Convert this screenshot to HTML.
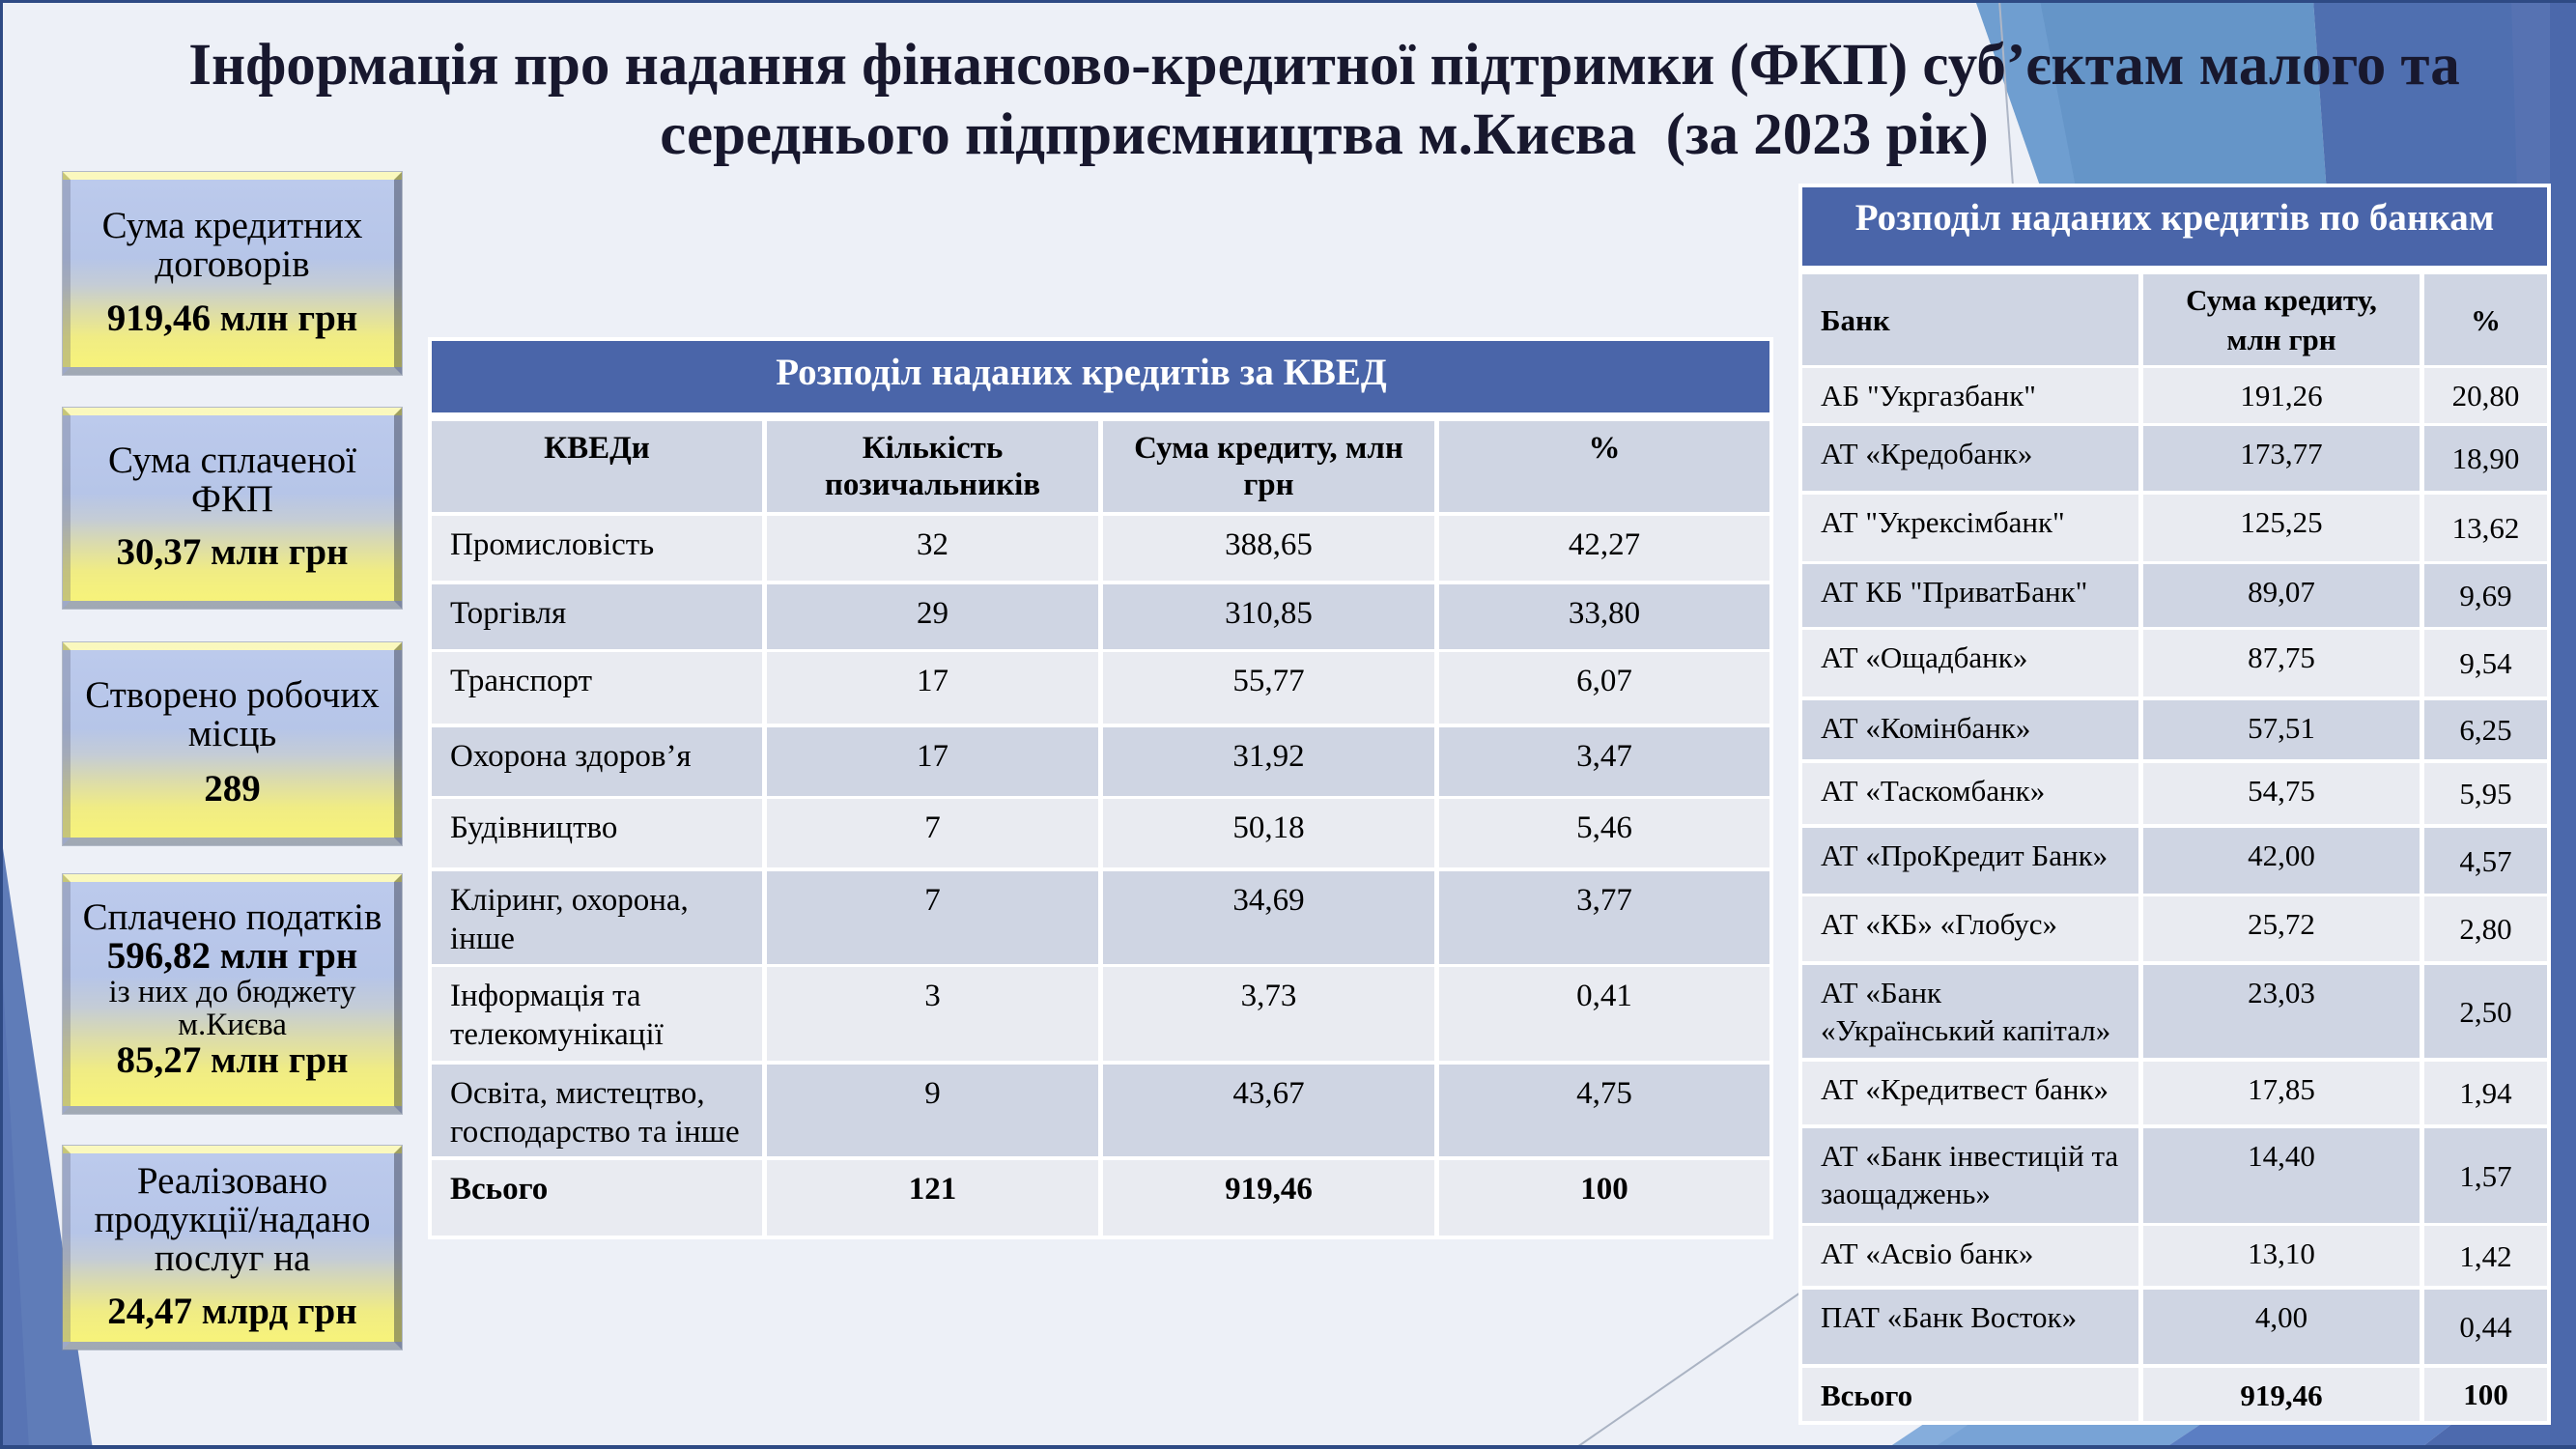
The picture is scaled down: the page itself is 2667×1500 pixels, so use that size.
<!DOCTYPE html>
<html lang="uk">
<head>
<meta charset="utf-8">
<style>
html,body{margin:0;padding:0}
body{width:2667px;height:1500px;overflow:hidden;position:relative;background:#edf0f7;font-family:"Liberation Serif","Noto Serif CJK SC",serif;color:#000}
.abs{position:absolute}
#title{position:absolute;left:100px;width:2542px;top:32px;text-align:center;font-weight:bold;font-size:61px;line-height:72px;color:#18182e;white-space:nowrap}
.bx{position:absolute;left:65px;width:351px;box-sizing:border-box;border-style:solid;border-width:8px;
 border-color:rgba(255,255,255,.5) rgba(40,45,60,.42) rgba(100,95,50,.3) rgba(90,95,115,.3);
 background:linear-gradient(180deg,#bccaec 0%,#b6c5e8 42%,#c4ccd6 56%,#dcdcaa 70%,#f0ec84 84%,#f7f37a 100%);
 box-shadow:0 0 0 1px rgba(130,140,160,.55);text-align:center;font-size:39px;line-height:40px}
.bx .in{position:absolute;left:0;right:0;white-space:nowrap}
.bx .bo{font-weight:bold}
.bx .sm{font-size:33px;line-height:34px}
.frame{position:absolute;background:#fff}
.hbar{position:absolute;background:#4a65a9;color:#fff;font-weight:bold;font-size:39px;text-align:center;white-space:nowrap}
.r{position:absolute}
.r>div{position:absolute;top:0;bottom:0;box-sizing:border-box;white-space:nowrap}
.dk>div{background:#cfd5e3}
.lt>div{background:#e9ebf1}
.K{left:447px;width:1385px;font-size:33px;line-height:40px}
.K>div{padding-top:10px}
.K>.a{left:0;width:342px;padding-left:19px}
.K>.b{left:347px;width:343px;text-align:center}
.K>.c{left:695px;width:343px;text-align:center}
.K>.d{left:1043px;width:342px;text-align:center}
.K.hd>div{padding-top:9px;line-height:38px;text-align:center;padding-left:0}
.B{left:1866px;width:771px;font-size:31px;line-height:39px}
.B>div{padding-top:9px}
.B>.a{left:0;width:348px;padding-left:19px}
.B>.b{left:353px;width:286px;text-align:center}
.B>.c{left:644px;width:127px;text-align:center;padding-top:0;display:flex;align-items:center;justify-content:center}
.B.bh>div{padding-top:0;display:flex;align-items:center}
.B.bh>.a{justify-content:flex-start}
.B.bh>.b{flex-direction:column;justify-content:center;line-height:41px}
.bold{font-weight:bold}
</style>
</head>
<body>
<svg class="abs" style="left:0;top:0" width="2667" height="1500" viewBox="0 0 2667 1500">
 <rect width="2667" height="1500" fill="#edf0f7"/>
 <polygon points="0,858 96,1500 0,1500" fill="#5f7cb8"/>
 <polygon points="0,960 30,1500 0,1500" fill="#5370b0" opacity=".6"/>
 <polygon points="2045,0 2395,0 2418,330 2160,330" fill="#6595c8"/>
 <polygon points="2045,0 2112,0 2175,330 2160,330" fill="#74a2d3" opacity=".7"/>
 <polygon points="2395,0 2667,0 2667,330 2418,330" fill="#4f6fb0"/>
 <polygon points="2600,0 2667,0 2667,330 2610,330" fill="#5672b2"/>
 <line x1="2070" y1="0" x2="2094" y2="330" stroke="#aeb6c6" stroke-width="2"/>
 <polygon points="1953,1500 2103,1400 2390,1400 2240,1500" fill="#78a3d6"/>
 <polygon points="1953,1500 2103,1400 2150,1400 2000,1500" fill="#88afdd" opacity=".8"/>
 <polygon points="2240,1500 2390,1400 2635,1400 2505,1500" fill="#5b7ec3"/>
 <polygon points="2505,1500 2635,1400 2667,1400 2667,1500" fill="#4d6aae"/>
 <line x1="1630" y1="1500" x2="1880" y2="1327" stroke="#aab3c3" stroke-width="2"/>
 <rect x="2640" y="0" width="27" height="1500" fill="#4b68ab"/>
 <rect x="0" y="0" width="2667" height="3" fill="#2e4a84"/>
 <rect x="0" y="0" width="3" height="1500" fill="#2e4a84"/>
 <rect x="0" y="1496" width="2667" height="4" fill="#2e4a84"/>
</svg>

<div id="title">Інформація про надання фінансово-кредитної підтримки (ФКП) суб’єктам малого та<br>середнього підприємництва м.Києва&nbsp; (за 2023 рік)</div>

<div class="bx" style="top:178px;height:210px">
 <div class="in" style="top:27.5px">
  <div>Сума кредитних</div>
  <div>договорів</div>
  <div class="bo" style="margin-top:16px">919,46 млн грн</div>
 </div>
</div>
<div class="bx" style="top:422px;height:208px">
 <div class="in" style="top:26.5px">
  <div>Сума сплаченої</div>
  <div>ФКП</div>
  <div class="bo" style="margin-top:15px">30,37 млн грн</div>
 </div>
</div>
<div class="bx" style="top:665px;height:210px">
 <div class="in" style="top:26.5px">
  <div>Створено робочих</div>
  <div>місць</div>
  <div class="bo" style="margin-top:17px">289</div>
 </div>
</div>
<div class="bx" style="top:905px;height:248px">
 <div class="in" style="top:16.5px">
  <div>Сплачено податків</div>
  <div class="bo">596,82 млн грн</div>
  <div class="sm">із них до бюджету</div>
  <div class="sm">м.Києва</div>
  <div class="bo">85,27 млн грн</div>
 </div>
</div>
<div class="bx" style="top:1186px;height:211px">
 <div class="in" style="top:8.5px">
  <div>Реалізовано</div>
  <div>продукції/надано</div>
  <div>послуг на</div>
  <div class="bo" style="margin-top:15px">24,47 млрд грн</div>
 </div>
</div>

<div class="frame" style="left:443px;top:349px;width:1393px;height:934px"></div>
<div class="hbar" style="left:447px;top:353px;width:1385px;height:74px;line-height:66px;box-sizing:border-box;padding-right:40px">Розподіл наданих кредитів за КВЕД</div>

<div class="r K dk hd bold" style="top:436px;height:94px">
 <div class="a">КВЕДи</div>
 <div class="b">Кількість<br>позичальників</div>
 <div class="c">Сума кредиту, млн<br>грн</div>
 <div class="d">%</div>
</div>
<div class="r K lt" style="top:534px;height:67px">
 <div class="a">Промисловість</div><div class="b">32</div><div class="c">388,65</div><div class="d">42,27</div>
</div>
<div class="r K dk" style="top:605px;height:67px">
 <div class="a">Торгівля</div><div class="b">29</div><div class="c">310,85</div><div class="d">33,80</div>
</div>
<div class="r K lt" style="top:675px;height:74px">
 <div class="a">Транспорт</div><div class="b">17</div><div class="c">55,77</div><div class="d">6,07</div>
</div>
<div class="r K dk" style="top:753px;height:71px">
 <div class="a">Охорона здоров’я</div><div class="b">17</div><div class="c">31,92</div><div class="d">3,47</div>
</div>
<div class="r K lt" style="top:827px;height:71px">
 <div class="a">Будівництво</div><div class="b">7</div><div class="c">50,18</div><div class="d">5,46</div>
</div>
<div class="r K dk" style="top:902px;height:96px">
 <div class="a">Кліринг, охорона,<br>інше</div><div class="b">7</div><div class="c">34,69</div><div class="d">3,77</div>
</div>
<div class="r K lt" style="top:1001px;height:97px">
 <div class="a">Інформація та<br>телекомунікації</div><div class="b">3</div><div class="c">3,73</div><div class="d">0,41</div>
</div>
<div class="r K dk" style="top:1102px;height:95px">
 <div class="a">Освіта, мистецтво,<br>господарство та інше</div><div class="b">9</div><div class="c">43,67</div><div class="d">4,75</div>
</div>
<div class="r K lt bold" style="top:1201px;height:78px">
 <div class="a">Всього</div><div class="b">121</div><div class="c">919,46</div><div class="d">100</div>
</div>

<div class="frame" style="left:1862px;top:190px;width:779px;height:1285px"></div>
<div class="hbar" style="left:1866px;top:194px;width:771px;height:81px;line-height:63px">Розподіл наданих кредитів по банкам</div>

<div class="r B dk bh bold" style="top:284px;height:94px">
 <div class="a">Банк</div>
 <div class="b"><span>Сума кредиту,</span><span>млн грн</span></div>
 <div class="c">%</div>
</div>
<div class="r B lt" style="top:381px;height:57px"><div class="a">АБ "Укргазбанк"</div><div class="b">191,26</div><div class="c">20,80</div></div>
<div class="r B dk" style="top:441px;height:67px"><div class="a">АТ «Кредобанк»</div><div class="b">173,77</div><div class="c">18,90</div></div>
<div class="r B lt" style="top:512px;height:69px"><div class="a">АТ "Укрексімбанк"</div><div class="b">125,25</div><div class="c">13,62</div></div>
<div class="r B dk" style="top:584px;height:65px"><div class="a">АТ КБ "ПриватБанк"</div><div class="b">89,07</div><div class="c">9,69</div></div>
<div class="r B lt" style="top:652px;height:69px"><div class="a">АТ «Ощадбанк»</div><div class="b">87,75</div><div class="c">9,54</div></div>
<div class="r B dk" style="top:725px;height:61px"><div class="a">АТ «Комінбанк»</div><div class="b">57,51</div><div class="c">6,25</div></div>
<div class="r B lt" style="top:790px;height:63px"><div class="a">АТ «Таскомбанк»</div><div class="b">54,75</div><div class="c">5,95</div></div>
<div class="r B dk" style="top:857px;height:68px"><div class="a">АТ «ПроКредит Банк»</div><div class="b">42,00</div><div class="c">4,57</div></div>
<div class="r B lt" style="top:928px;height:67px"><div class="a">АТ «КБ» «Глобус»</div><div class="b">25,72</div><div class="c">2,80</div></div>
<div class="r B dk" style="top:999px;height:96px"><div class="a">АТ «Банк<br>«Український капітал»</div><div class="b">23,03</div><div class="c">2,50</div></div>
<div class="r B lt" style="top:1099px;height:65px"><div class="a">АТ «Кредитвест банк»</div><div class="b">17,85</div><div class="c">1,94</div></div>
<div class="r B dk" style="top:1168px;height:98px"><div class="a">АТ «Банк інвестицій та<br>заощаджень»</div><div class="b">14,40</div><div class="c">1,57</div></div>
<div class="r B lt" style="top:1269px;height:62px"><div class="a">АТ «Асвіо банк»</div><div class="b">13,10</div><div class="c">1,42</div></div>
<div class="r B dk" style="top:1335px;height:77px"><div class="a">ПАТ «Банк Восток»</div><div class="b">4,00</div><div class="c">0,44</div></div>
<div class="r B lt bold" style="top:1416px;height:55px"><div class="a">Всього</div><div class="b">919,46</div><div class="c">100</div></div>

</body>
</html>
